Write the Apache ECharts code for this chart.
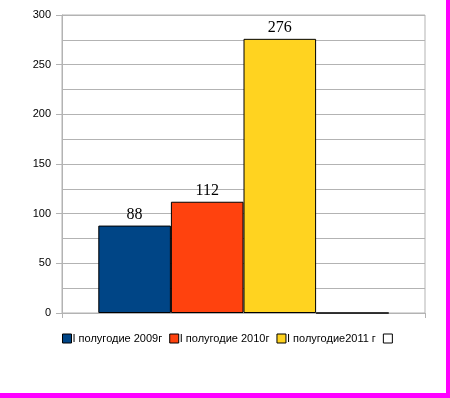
<!DOCTYPE html>
<html><head><meta charset="utf-8">
<script src="https://cdn.jsdelivr.net/npm/echarts@6/dist/echarts.min.js"></script>
<style>html,body{margin:0;padding:0;background:#fff}
#wrap{position:relative;width:450px;height:398px;background:#fff}
#c{position:absolute;left:0;top:0;width:450px;height:398px}
#br{position:absolute;left:446px;top:0;width:4px;height:398px;background:#ff00ff}
#bb{position:absolute;left:0;top:393px;width:450px;height:5px;background:#ff00ff}
</style></head>
<body><div id="wrap"><div id="c"></div><div id="br"></div><div id="bb"></div></div>
<script>
const categories = [''];
const seriesNames = ['I полугодие 2009г', 'I полугодие 2010г', 'I полугодие2011 г', ' '];
const seriesValues = [88, 112, 276, 0];
const seriesColors = ['#004586', '#ff420e', '#ffd320', '#ffffff'];
const yTicks = [0, 50, 100, 150, 200, 250, 300];

const chart = echarts.init(document.getElementById('c'), null, {renderer:'canvas'});
chart.setOption({
  animation:false,
  backgroundColor:'#fff',
  grid:{left:62,right:25,top:15,bottom:85,show:true,borderColor:'#b3b3b3',borderWidth:1},
  legend:{
    left:57, top:328, itemWidth:9, itemHeight:9, itemGap:7, icon:'rect',
    data:seriesNames,
    itemStyle:{borderColor:'#000',borderWidth:1},
    textStyle:{fontFamily:'Liberation Sans',fontSize:11,color:'#000',padding:[0,0,0,-4]}
  },
  xAxis:{type:'category',data:categories,
    axisLine:{show:true,lineStyle:{color:'#b3b3b3'}},
    axisTick:{show:true,length:5,lineStyle:{color:'#b3b3b3'}},
    axisLabel:{show:false}},
  yAxis:{type:'value',min:yTicks[0],max:yTicks[yTicks.length-1],interval:50,
    axisLine:{show:true,lineStyle:{color:'#b3b3b3'}},
    axisTick:{show:true,length:6,lineStyle:{color:'#b3b3b3'}},
    axisLabel:{margin:11,fontFamily:'Liberation Sans',fontSize:11,color:'#000'},
    splitLine:{show:true,lineStyle:{color:'#b3b3b3'}},
    minorTick:{show:false,splitNumber:2},
    minorSplitLine:{show:true,lineStyle:{color:'#b3b3b3'}}},
  series:seriesNames.map((n,i)=>({
    type:'bar',name:n,data:[seriesValues[i]],barGap:'0%',barCategoryGap:'20%',
    itemStyle:{color:seriesColors[i],borderColor:'#000',borderWidth:1},
    label:{show:i<3,position:'top',distance:3,fontFamily:'Liberation Serif',fontSize:16,color:'#000'}
  }))
});
</script></body></html>
